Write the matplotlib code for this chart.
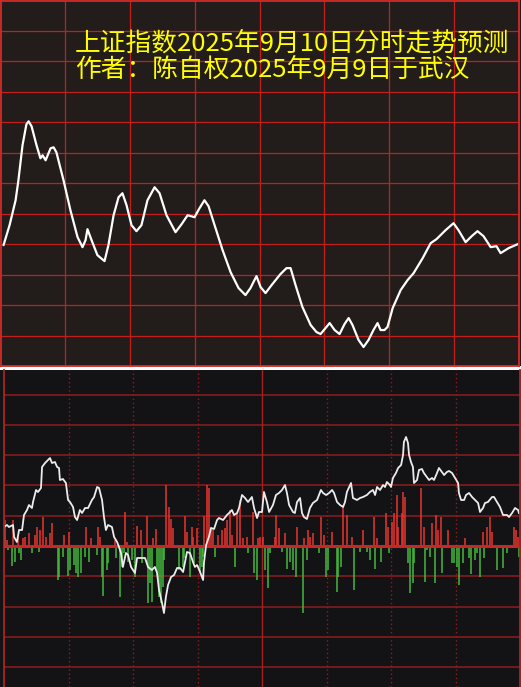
import numpy as np
import matplotlib.pyplot as plt
from matplotlib.patches import Rectangle

plt.rcParams['font.family'] = ['Noto Sans CJK SC', 'DejaVu Sans']

W, H = 521, 687

title1 = '上证指数2025年9月10日分时走势预测'
title2 = '作者：陈自权2025年9月9日于武汉'

# predicted curve (top), x = trading minute from 9:30, y = level
pred_min = [1.4, 4.2, 7.0, 8.3, 10.2, 12.0, 13.0, 14.4, 16.7, 18.5, 19.5, 20.9, 23.2, 24.6, 25.9,
            29.2, 32.4, 35.7, 38.0, 39.4, 40.3, 42.2, 44.9, 48.2, 50.0, 52.4, 54.7, 56.5, 58.4,
            60.7, 63.0, 65.3, 68.1, 71.4, 73.7, 76.9, 81.1, 83.9, 86.7, 89.9, 92.2, 94.5, 96.4,
            99.2, 102.9, 106.6, 110.3, 113.5, 115.8, 118.6, 120.5, 122.8, 125.6, 129.7, 132.5,
            134.4, 136.7, 139.9, 143.7, 146.4, 148.3, 150.6, 152.5, 154.8, 157.1, 159.4, 161.3,
            163.1, 165.9, 168.2, 170.5, 172.8, 174.7, 176.1, 177.9, 179.3, 181.7, 185.4, 188.6,
            191.4, 195.6, 199.3, 202.0, 206.2, 209.9, 212.2, 215.5, 218.3, 221.0, 223.8, 227.1,
            229.8, 231.7, 235.4, 239.6]
pred_val = [121, 141, 166, 186, 221, 242, 245, 240, 221, 208, 211, 206, 218, 219, 214,
            186, 156, 129, 119, 126, 137, 126, 111, 105, 121, 151, 169, 173, 161,
            141, 135, 141, 166, 179, 173, 151, 134, 142, 151, 149, 158, 166, 160,
            141, 116, 94, 78, 71, 78, 90, 79, 73, 81, 92, 98,
            98, 81, 59, 41, 34, 32, 38, 43, 36, 32, 42, 48,
            41, 26, 19, 26, 36, 43, 36, 36, 39, 58, 76, 86,
            93, 108, 123, 127, 136, 143, 136, 124, 130, 135, 130, 119,
            120, 113, 118, 122]

# intraday line (bottom)
line_min = [0.0, 0.0, 1.4, 2.3, 4.2, 4.7, 6.0, 7.0, 8.4, 9.3, 10.7, 11.6, 13.0, 13.5, 14.9, 15.8,
            17.2, 17.7, 19.1, 20.5, 21.4, 22.3, 23.7, 24.7, 25.6, 26.0, 27.4, 28.8, 29.8, 30.7,
            32.1, 33.0, 34.0, 35.3, 36.3, 37.7, 39.1, 40.9, 41.9, 43.3, 44.2, 45.6, 46.5, 47.4,
            48.4, 50.2, 51.2, 52.6, 53.5, 54.4, 55.3, 56.7, 57.7, 59.1,
            60.0, 60.9, 61.9, 64.2, 65.6, 67.0, 68.8, 70.2, 71.2, 72.1, 73.5, 74.4, 75.3, 76.3,
            77.7, 79.1, 80.5, 81.9, 83.3, 84.2, 85.1, 86.5, 87.9, 88.8, 89.8, 91.2, 92.6, 93.0,
            94.0, 95.3, 96.3, 97.7, 99.1, 100.0, 101.9, 103.7, 104.7, 106.0, 107.0, 108.4, 109.3,
            110.7, 112.1, 113.5, 115.3, 116.3, 117.7, 118.6,
            120.0, 120.9, 122.3, 123.3, 125.1, 126.5, 127.9, 129.3, 130.7, 131.6, 132.6, 134.4,
            135.3, 136.3, 137.7, 138.6, 139.5, 140.9, 142.3, 143.7, 145.6, 147.4, 148.4, 149.8,
            151.2, 152.6, 153.5, 154.9, 156.3, 157.7, 158.6, 159.5, 161.4, 162.3, 164.2, 165.6,
            167.0, 168.8, 170.2, 171.6, 172.6, 173.5, 174.9, 176.3, 177.2, 178.1, 179.5,
            180.0, 180.9, 182.3, 183.3, 184.7, 185.6, 186.0, 187.0, 187.9, 188.4, 189.3, 190.2,
            190.7, 192.1, 193.0, 194.4, 195.3, 196.7, 197.7, 199.1, 200.0, 201.4, 202.3, 203.7,
            204.7, 206.0, 207.0, 208.4, 209.8, 211.2, 211.6, 212.6, 214.0, 214.9, 216.3, 217.7,
            219.1, 220.5, 221.4, 222.8, 223.7, 225.1, 227.0, 227.9, 229.3, 230.7, 232.1, 234.0,
            234.9, 236.3, 237.7, 239.1, 239.5]
line_val = [-1, 19, 21, 19, 21, 9, 4, 16, 16, 31, 36, 41, 38, 44, 56, 54,
            58, 79, 83, 86, 88, 83, 84, 79, 78, 66, 67, 63, 46, 44,
            39, 29, 26, 36, 33, 38, 38, 46, 49, 59, 58, 46, 29, 16,
            21, 19, 9, 4, -1, -7, -21, -7, -9, -21,
            -24, -27, -12, -12, -12, -21, -24, -21, -27, -44, -57, -67, -51, -39,
            -31, -29, -22, -22, -26, -16, -6, -7, -16, -21, -19, -26, -34, -17,
            1, 9, 18, 17, 26, 28, 26, 31, 33, 36, 31, 33, 38,
            51, 48, 44, 49, 38, 28, 34,
            34, 54, 44, 34, 41, 51, 53, 56, 61, 53, 41, 34,
            33, 44, 48, 33, 29, 27, 38, 43, 46, 56, 53, 51,
            53, 56, 53, 44, 41, 39, 44, 54, 63, 48, 46, 48,
            49, 51, 54, 56, 51, 59, 56, 61, 59, 64, 61,
            59, 68, 73, 78, 81, 91, 104, 109, 103, 91, 84, 79,
            63, 66, 76, 77, 73, 69, 66, 68, 66, 73, 78, 74,
            71, 74, 75, 73, 68, 63, 53, 46, 46, 51, 53, 49,
            46, 43, 34, 38, 43, 44, 49, 49, 44, 39, 31, 31,
            29, 33, 38, 36, 33]

red_min = [0.3, 1.4, 4.2, 6.5, 8.8, 9.8, 11.6, 14.4, 15.3, 16.7, 18.1, 19.5, 21.4, 22.3, 27.9,
           30.2, 38.1, 40.5, 43.7, 44.7, 51.6, 56.3, 57.2, 61.9, 63.7, 66.5, 69.3, 70.7, 75.3,
           76.7, 77.7, 78.6, 84.2, 85.1, 87.4, 87.9, 89.8, 93.0, 94.4, 95.3, 96.3, 97.2, 99.5,
           101.4, 102.8, 103.7, 105.1, 106.0, 108.4, 109.8, 111.2, 113.0, 115.8, 118.1, 119.1,
           120.5, 126.0, 126.5, 127.9, 130.7, 136.3, 139.5, 141.4, 142.3, 143.7, 147.4, 148.8,
           152.6, 157.7, 159.5, 161.9, 167.0, 172.1, 173.5, 177.7, 178.6, 180.5, 181.4, 182.8,
           183.3, 185.1, 185.6, 186.5, 194.0, 195.3, 199.1, 200.9, 201.9, 203.3, 206.5, 214.4,
           222.8, 224.7, 226.0, 227.0, 237.2, 238.1, 239.1]
red_val = [26, 6, 26, 9, 8, 9, 13, 11, 19, 16, 29, 9, 13, 23, 11,
           14, 19, 8, 19, 9, 6, 34, 4, 20, 16, 30, 8, 17, 61,
           39, 27, 18, 30, 14, 19, 9, 18, 30, 61, 58, 19, 16, 11,
           16, 18, 26, 36, 11, 33, 46, 8, 9, 34, 8, 9,
           9, 9, 31, 18, 13, 19, 8, 16, 9, 13, 29, 11,
           14, 41, 31, 9, 16, 29, 8, 33, 19, 24, 33, 51,
           19, 33, 54, 49, 58, 19, 23, 31, 16, 29, 16, 8,
           14, 19, 29, 14, 19, 16, 9]

green_min = [1.9, 3.7, 5.1, 7.0, 7.9, 13.0, 16.3, 25.1, 25.6, 27.4, 29.8, 30.7, 32.6, 33.5,
             34.4, 35.8, 37.7, 39.5, 43.3, 45.6, 46.0, 47.9, 48.4, 52.1, 54.0, 54.9, 55.8, 57.7,
             59.5, 60.9, 64.2, 67.0, 67.9, 68.8, 71.2, 72.1, 73.0, 74.0, 74.4, 81.4, 83.3, 83.7,
             86.5, 88.4, 91.2, 92.1, 92.6, 98.1, 107.4, 113.5, 116.3, 117.7,
             121.4, 122.8, 123.7, 129.3, 131.6, 133.0, 134.4, 135.8, 139.1, 140.9, 146.5, 149.8,
             150.7, 154.9, 155.3, 156.7, 162.8, 165.6, 168.8, 170.2, 172.6, 175.3, 179.1,
             187.9, 188.8, 190.2, 190.7, 195.8, 196.7, 198.1, 200.5, 203.7, 208.4, 209.3, 210.7,
             211.6, 213.5, 216.3, 217.2, 219.1, 220.0, 221.4, 223.3, 229.3, 232.1, 234.0, 239.7]
green_val = [-4, -20, -16, -7, -14, -7, -6, -34, -31, -11, -30, -24, -19, -27,
             -31, -27, -11, -16, -9, -31, -50, -24, -17, -12, -51, -21, -7, -16,
             -14, -31, -17, -57, -37, -56, -27, -51, -57, -41, -14, -24, -21, -12,
             -31, -17, -27, -21, -11, -11, -21, -7, -27, -34,
             -24, -42, -7, -6, -23, -16, -24, -31, -67, -14, -7, -31,
             -24, -46, -31, -21, -44, -6, -6, -14, -23, -16, -7,
             -17, -47, -37, -17, -36, -4, -11, -37, -27, -17, -17, -21,
             -39, -17, -12, -28, -14, -7, -31, -12, -24, -22, -7, -11]

top_bg = '#221c1b'
bot_bg = '#131316'

fig = plt.figure(figsize=(W / 100, H / 100), dpi=100, facecolor='white')
fig.patches.append(Rectangle((0, 1 - 366 / H), 1, 366 / H, transform=fig.transFigure,
                             facecolor=top_bg, edgecolor='none', zorder=-10))
fig.patches.append(Rectangle((0, 0), 1, 317 / H, transform=fig.transFigure,
                             facecolor=bot_bg, edgecolor='none', zorder=-10))

# ---- top panel
ax1 = fig.add_axes([0.5 / W, 1 - 366 / H, 518 / W, 365.5 / H])
ax1.set_facecolor(top_bg)
ax1.set_xlim(0, 240)
ax1.set_ylim(0, 366)
for x in range(30, 240, 30):
    ax1.axvline(x, color='#c41f1d', lw=0.9)
for y in np.linspace(0, 366, 13)[1:-1]:
    ax1.axhline(y, color='#c41f1d', lw=0.9)
for s in ax1.spines.values():
    s.set_color('#d42a26')
    s.set_linewidth(1.3)
ax1.set_xticks([])
ax1.set_yticks([])
ax1.plot(pred_min, pred_val, color='white', lw=1.6, solid_joinstyle='round',
         solid_capstyle='round')

fig.text(75 / W, 1 - 44 / H, title1, color='#ffff00', fontsize=18.5, ha='left', va='center')
fig.text(75 / W, 1 - 70 / H, title2, color='#ffff00', fontsize=18.5, ha='left', va='center')

# ---- bottom panel
ax2 = fig.add_axes([4 / W, 0, 516 / W, 317 / H])
ax2.set_facecolor(bot_bg)
ax2.set_xlim(0, 240)
ax2.set_ylim(-141, 176)
for k in range(-4, 6):
    if k != 0:
        ax2.axhline(k * 30.3, color='#8e1d1d', lw=1.1)
for x in range(30, 240, 30):
    if x == 120:
        ax2.axvline(x, color='#a82020', lw=1.0)
    else:
        ax2.axvline(x, color='#8e1d1d', lw=1.0, ls=(0, (1, 2)))
for side in ['top', 'bottom']:
    ax2.spines[side].set_visible(False)
for side in ['left', 'right']:
    ax2.spines[side].set_color('#b02222')
    ax2.spines[side].set_linewidth(1.3)
ax2.set_xticks([])
ax2.set_yticks([])
ax2.vlines(red_min, 0, red_val, color='#e8342f', lw=1.1)
ax2.vlines(green_min, 0, green_val, color='#44b83c', lw=1.1)
ax2.axhline(0, color='#c62828', lw=2.2)
ax2.plot(line_min, line_val, color='#ececec', lw=1.3)

fig.savefig('out.png', dpi=100, facecolor=fig.get_facecolor())
